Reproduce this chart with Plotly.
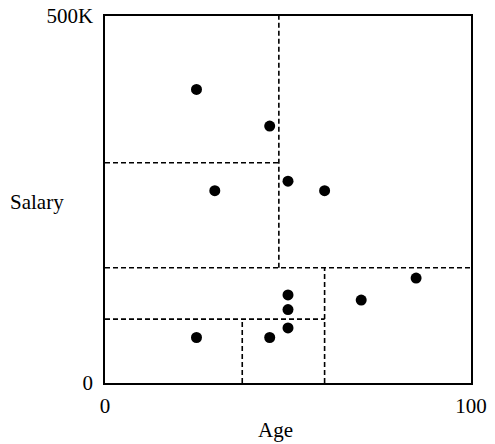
import plotly.graph_objects as go

# data points (age in years, salary in thousands)
age = [25, 45, 50, 30, 60, 85, 70, 50, 50, 50, 25, 45]
salary = [400, 350, 275, 262, 262, 143, 113, 120, 100, 75, 62, 62]

# k-d tree split segments: start and end of each dashed line
split_x0 = [47.5, 0, 0, 60, 0, 37.5]
split_y0 = [157, 300, 157, 0, 87, 0]
split_x1 = [47.5, 47.5, 100, 60, 60, 37.5]
split_y1 = [500, 300, 157, 157, 87, 87]

x_ticks = [0, 100]
y_ticks = [0, 500]
y_ticktext = ['0', '500K']

seg_x, seg_y = [], []
for a, b, c, d in zip(split_x0, split_y0, split_x1, split_y1):
    seg_x += [a, c, None]
    seg_y += [b, d, None]

font = dict(family='Liberation Serif', size=21, color='black')

fig = go.Figure()
fig.add_trace(
    go.Scatter(
        x=seg_x,
        y=seg_y,
        mode='lines',
        line=dict(color='black', width=1.6, dash='5px,3px'),
        hoverinfo='skip',
    )
)
fig.add_trace(
    go.Scatter(
        x=age,
        y=salary,
        mode='markers',
        marker=dict(color='black', size=11),
    )
)
fig.update_layout(
    width=495,
    height=444,
    margin=dict(l=105, r=24, t=16, b=61, autoexpand=False),
    plot_bgcolor='white',
    paper_bgcolor='white',
    showlegend=False,
    font=font,
    xaxis=dict(
        range=[0, 100],
        tickvals=x_ticks,
        showgrid=False,
        zeroline=False,
        showline=True,
        linecolor='black',
        linewidth=1.5,
        mirror=True,
        ticks='',
        ticklabelstandoff=3,
    ),
    yaxis=dict(
        range=[0, 500],
        tickvals=y_ticks,
        ticktext=y_ticktext,
        showgrid=False,
        zeroline=False,
        showline=True,
        linecolor='black',
        linewidth=1.5,
        mirror=True,
        ticks='',
        ticklabelstandoff=6,
    ),
    annotations=[
        dict(
            text='Salary',
            xref='paper',
            yref='paper',
            x=-0.186,
            y=0.493,
            xanchor='center',
            yanchor='middle',
            showarrow=False,
            font=font,
        ),
        dict(
            text='Age',
            xref='paper',
            yref='paper',
            x=0.4645,
            y=-0.128,
            xanchor='center',
            yanchor='middle',
            showarrow=False,
            font=font,
        ),
    ],
)

# drop the default page margin so the figure sits at the window's corner
fig.write_html(
    "out.html",
    config={'displayModeBar': False},
    post_script="document.body.style.margin='0';",
)
